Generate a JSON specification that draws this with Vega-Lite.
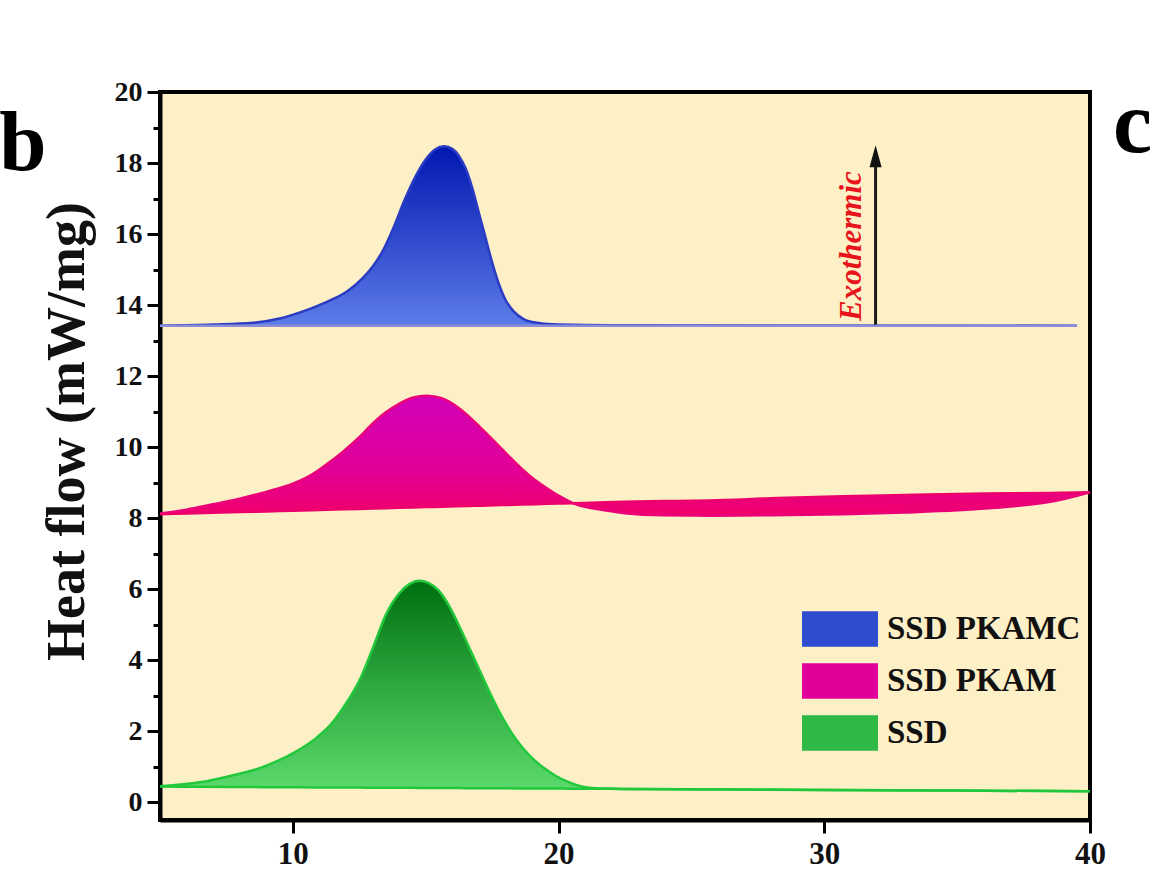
{
  "$schema": "https://vega.github.io/schema/vega-lite/v6.json",
  "width": 930,
  "height": 728,
  "autosize": {"type": "none"},
  "padding": {"left": 160, "top": 92, "right": 79, "bottom": 67},
  "background": "#FFFFFF",
  "config": {"view": {"stroke": "black", "strokeWidth": 4, "fill": "#FDEFC6"}, "font": "Liberation Serif"},
  "data": {"values": [
    {"s": "SSD PKAMC", "x": 5, "y": 13.42, "b": 13.42},
    {"s": "SSD PKAMC", "x": 7, "y": 13.45, "b": 13.42},
    {"s": "SSD PKAMC", "x": 8.5, "y": 13.5, "b": 13.42},
    {"s": "SSD PKAMC", "x": 9.5, "y": 13.62, "b": 13.42},
    {"s": "SSD PKAMC", "x": 10.3, "y": 13.8, "b": 13.42},
    {"s": "SSD PKAMC", "x": 11.0, "y": 14.0, "b": 13.42},
    {"s": "SSD PKAMC", "x": 11.6, "y": 14.2, "b": 13.42},
    {"s": "SSD PKAMC", "x": 12.1, "y": 14.42, "b": 13.42},
    {"s": "SSD PKAMC", "x": 12.6, "y": 14.74, "b": 13.42},
    {"s": "SSD PKAMC", "x": 13.0, "y": 15.08, "b": 13.42},
    {"s": "SSD PKAMC", "x": 13.4, "y": 15.55, "b": 13.42},
    {"s": "SSD PKAMC", "x": 13.8, "y": 16.2, "b": 13.42},
    {"s": "SSD PKAMC", "x": 14.2, "y": 16.95, "b": 13.42},
    {"s": "SSD PKAMC", "x": 14.6, "y": 17.6, "b": 13.42},
    {"s": "SSD PKAMC", "x": 15.0, "y": 18.1, "b": 13.42},
    {"s": "SSD PKAMC", "x": 15.35, "y": 18.38, "b": 13.42},
    {"s": "SSD PKAMC", "x": 15.7, "y": 18.47, "b": 13.42},
    {"s": "SSD PKAMC", "x": 16.0, "y": 18.4, "b": 13.42},
    {"s": "SSD PKAMC", "x": 16.25, "y": 18.2, "b": 13.42},
    {"s": "SSD PKAMC", "x": 16.5, "y": 17.85, "b": 13.42},
    {"s": "SSD PKAMC", "x": 16.75, "y": 17.3, "b": 13.42},
    {"s": "SSD PKAMC", "x": 17.0, "y": 16.6, "b": 13.42},
    {"s": "SSD PKAMC", "x": 17.25, "y": 15.9, "b": 13.42},
    {"s": "SSD PKAMC", "x": 17.5, "y": 15.2, "b": 13.42},
    {"s": "SSD PKAMC", "x": 17.75, "y": 14.6, "b": 13.42},
    {"s": "SSD PKAMC", "x": 18.0, "y": 14.15, "b": 13.42},
    {"s": "SSD PKAMC", "x": 18.3, "y": 13.83, "b": 13.42},
    {"s": "SSD PKAMC", "x": 18.7, "y": 13.6, "b": 13.42},
    {"s": "SSD PKAMC", "x": 19.2, "y": 13.5, "b": 13.42},
    {"s": "SSD PKAMC", "x": 20.0, "y": 13.45, "b": 13.42},
    {"s": "SSD PKAMC", "x": 22.0, "y": 13.43, "b": 13.42},
    {"s": "SSD PKAMC", "x": 39.5, "y": 13.42, "b": 13.42},

    {"s": "SSD PKAM", "x": 5, "y": 8.13, "b": 8.11},
    {"s": "SSD PKAM", "x": 6, "y": 8.24, "b": 8.13},
    {"s": "SSD PKAM", "x": 7, "y": 8.39, "b": 8.15},
    {"s": "SSD PKAM", "x": 8, "y": 8.55, "b": 8.17},
    {"s": "SSD PKAM", "x": 9, "y": 8.74, "b": 8.19},
    {"s": "SSD PKAM", "x": 10, "y": 8.97, "b": 8.21},
    {"s": "SSD PKAM", "x": 10.7, "y": 9.22, "b": 8.224},
    {"s": "SSD PKAM", "x": 11.3, "y": 9.53, "b": 8.236},
    {"s": "SSD PKAM", "x": 11.9, "y": 9.88, "b": 8.248},
    {"s": "SSD PKAM", "x": 12.5, "y": 10.28, "b": 8.26},
    {"s": "SSD PKAM", "x": 13.0, "y": 10.66, "b": 8.27},
    {"s": "SSD PKAM", "x": 13.5, "y": 10.98, "b": 8.28},
    {"s": "SSD PKAM", "x": 14.0, "y": 11.22, "b": 8.29},
    {"s": "SSD PKAM", "x": 14.5, "y": 11.39, "b": 8.3},
    {"s": "SSD PKAM", "x": 15.05, "y": 11.45, "b": 8.311},
    {"s": "SSD PKAM", "x": 15.6, "y": 11.38, "b": 8.322},
    {"s": "SSD PKAM", "x": 16.1, "y": 11.18, "b": 8.332},
    {"s": "SSD PKAM", "x": 16.6, "y": 10.88, "b": 8.342},
    {"s": "SSD PKAM", "x": 17.1, "y": 10.52, "b": 8.352},
    {"s": "SSD PKAM", "x": 17.6, "y": 10.15, "b": 8.362},
    {"s": "SSD PKAM", "x": 18.1, "y": 9.77, "b": 8.372},
    {"s": "SSD PKAM", "x": 18.6, "y": 9.4, "b": 8.382},
    {"s": "SSD PKAM", "x": 19.1, "y": 9.08, "b": 8.392},
    {"s": "SSD PKAM", "x": 19.6, "y": 8.82, "b": 8.402},
    {"s": "SSD PKAM", "x": 20.1, "y": 8.59, "b": 8.412},
    {"s": "SSD PKAM", "x": 20.55, "y": 8.42, "b": 8.42},
    {"s": "SSD PKAM", "x": 21.0, "y": 8.32, "b": 8.43},
    {"s": "SSD PKAM", "x": 21.5, "y": 8.25, "b": 8.44},
    {"s": "SSD PKAM", "x": 22.5, "y": 8.14, "b": 8.46},
    {"s": "SSD PKAM", "x": 24, "y": 8.08, "b": 8.48},
    {"s": "SSD PKAM", "x": 25.7, "y": 8.07, "b": 8.5},
    {"s": "SSD PKAM", "x": 28, "y": 8.08, "b": 8.56},
    {"s": "SSD PKAM", "x": 30.7, "y": 8.11, "b": 8.62},
    {"s": "SSD PKAM", "x": 33, "y": 8.16, "b": 8.65},
    {"s": "SSD PKAM", "x": 35, "y": 8.22, "b": 8.68},
    {"s": "SSD PKAM", "x": 37, "y": 8.33, "b": 8.7},
    {"s": "SSD PKAM", "x": 38.5, "y": 8.46, "b": 8.71},
    {"s": "SSD PKAM", "x": 40, "y": 8.73, "b": 8.73},

    {"s": "SSD", "x": 5, "y": 0.45, "b": 0.44},
    {"s": "SSD", "x": 6.5, "y": 0.56, "b": 0.434},
    {"s": "SSD", "x": 7.75, "y": 0.76, "b": 0.43},
    {"s": "SSD", "x": 8.5, "y": 0.9, "b": 0.427},
    {"s": "SSD", "x": 9.3, "y": 1.12, "b": 0.424},
    {"s": "SSD", "x": 10.1, "y": 1.42, "b": 0.421},
    {"s": "SSD", "x": 10.9, "y": 1.82, "b": 0.418},
    {"s": "SSD", "x": 11.5, "y": 2.25, "b": 0.416},
    {"s": "SSD", "x": 12.0, "y": 2.78, "b": 0.414},
    {"s": "SSD", "x": 12.5, "y": 3.42, "b": 0.412},
    {"s": "SSD", "x": 13.0, "y": 4.32, "b": 0.41},
    {"s": "SSD", "x": 13.5, "y": 5.28, "b": 0.408},
    {"s": "SSD", "x": 14.0, "y": 5.88, "b": 0.406},
    {"s": "SSD", "x": 14.4, "y": 6.15, "b": 0.405},
    {"s": "SSD", "x": 14.75, "y": 6.24, "b": 0.404},
    {"s": "SSD", "x": 15.1, "y": 6.18, "b": 0.402},
    {"s": "SSD", "x": 15.5, "y": 5.95, "b": 0.401},
    {"s": "SSD", "x": 15.9, "y": 5.5, "b": 0.4},
    {"s": "SSD", "x": 16.3, "y": 4.9, "b": 0.398},
    {"s": "SSD", "x": 16.7, "y": 4.25, "b": 0.397},
    {"s": "SSD", "x": 17.1, "y": 3.6, "b": 0.395},
    {"s": "SSD", "x": 17.5, "y": 2.95, "b": 0.394},
    {"s": "SSD", "x": 17.9, "y": 2.37, "b": 0.392},
    {"s": "SSD", "x": 18.4, "y": 1.77, "b": 0.39},
    {"s": "SSD", "x": 18.9, "y": 1.32, "b": 0.389},
    {"s": "SSD", "x": 19.4, "y": 0.99, "b": 0.387},
    {"s": "SSD", "x": 19.9, "y": 0.74, "b": 0.385},
    {"s": "SSD", "x": 20.4, "y": 0.56, "b": 0.383},
    {"s": "SSD", "x": 20.9, "y": 0.44, "b": 0.381},
    {"s": "SSD", "x": 21.6, "y": 0.385, "b": 0.379},
    {"s": "SSD", "x": 22.5, "y": 0.375, "b": 0.375},
    {"s": "SSD", "x": 30, "y": 0.347, "b": 0.347},
    {"s": "SSD", "x": 40, "y": 0.31, "b": 0.31}
  ]},
  "layer": [
    {
      "encoding": {
        "x": {"field": "x", "type": "quantitative",
          "scale": {"domain": [5, 40], "nice": false, "zero": false},
          "axis": {"values": [10, 20, 30, 40], "title": null, "grid": false, "domainColor": "black", "domainWidth": 4,
            "tickColor": "black", "tickWidth": 3, "tickSize": 13, "labelFont": "Liberation Serif", "labelFontSize": 31,
            "labelFontWeight": "bold", "labelColor": "#111111", "labelPadding": 6, "labelFlush": false}},
        "y": {"field": "y", "type": "quantitative", "stack": null,
          "scale": {"domain": [-0.5, 20], "nice": false, "zero": false},
          "axis": {"values": [0,1,2,3,4,5,6,7,8,9,10,11,12,13,14,15,16,17,18,19,20],
            "labelExpr": "datum.value % 2 === 0 ? datum.label : ''",
            "title": "Heat flow (mW/mg)", "titleFont": "Liberation Serif", "titleFontSize": 54, "titleFontWeight": "bold",
            "titleColor": "#111111", "titleX": -66, "titleY": 339,
            "grid": false, "domainColor": "black", "domainWidth": 4, "tickColor": "black", "tickWidth": 3,
            "tickSize": {"condition": {"test": "datum.value % 2 !== 0", "value": 7}, "value": 13},
            "labelFont": "Liberation Serif", "labelFontSize": 28, "labelFontWeight": "bold", "labelColor": "#111111",
            "labelPadding": 5, "labelOverlap": false}}
      },
      "layer": [
        {
          "mark": {"type": "area", "interpolate": "monotone"},
          "encoding": {
            "y2": {"field": "b"},
            "color": {"field": "s", "type": "nominal",
              "scale": {"domain": ["SSD PKAMC", "SSD PKAM", "SSD"], "range": ["#2F4BD0", "#E2009A", "#2EB845"]},
              "legend": {"orient": "none", "legendX": 661, "legendY": 518, "title": null,
                "symbolType": "M-2,-0.94H2V0.94H-2Z", "symbolSize": 1444, "symbolStrokeWidth": 0, "symbolOpacity": 1,
                "labelFont": "Liberation Serif", "labelFontSize": 33, "labelFontWeight": "bold", "labelColor": "#111111",
                "labelLimit": 400, "labelOffset": 28, "rowPadding": 15, "padding": 0,
                "encode": {"symbols": {"update": {"fill": [
                  {"test": "datum.value === 'SSD PKAMC'", "value": {"gradient": "linear", "x1": 0, "y1": 0, "x2": 0, "y2": 1, "stops": [{"offset": 0, "color": "#0A20B0"}, {"offset": 1, "color": "#5A78E6"}]}},
                  {"test": "datum.value === 'SSD PKAM'", "value": {"gradient": "linear", "x1": 0, "y1": 0, "x2": 0, "y2": 1, "stops": [{"offset": 0, "color": "#D400B0"}, {"offset": 1, "color": "#F2006A"}]}},
                  {"value": {"gradient": "linear", "x1": 0, "y1": 0, "x2": 0, "y2": 1, "stops": [{"offset": 0, "color": "#006A12"}, {"offset": 1, "color": "#58D466"}]}}
                ]}}}}
            }
          }
        },
        {
          "transform": [{"filter": "datum.s === 'SSD PKAMC'"}],
          "mark": {"type": "area", "interpolate": "monotone", "color": {"gradient": "linear", "x1": 0, "y1": 0, "x2": 0, "y2": 1,
            "stops": [{"offset": 0, "color": "#0018B0"}, {"offset": 0.5, "color": "#2E48CC"}, {"offset": 1, "color": "#5C7CE8"}]}},
          "encoding": {"y2": {"field": "b"}}
        },
        {
          "transform": [{"filter": "datum.s === 'SSD PKAM'"}],
          "mark": {"type": "area", "interpolate": "monotone", "color": {"gradient": "linear", "x1": 0, "y1": 0, "x2": 0, "y2": 1,
            "stops": [{"offset": 0, "color": "#D000B8"}, {"offset": 0.6, "color": "#E2009A"}, {"offset": 1, "color": "#F0006A"}]}},
          "encoding": {"y2": {"field": "b"}}
        },
        {
          "transform": [{"filter": "datum.s === 'SSD'"}],
          "mark": {"type": "area", "interpolate": "monotone", "color": {"gradient": "linear", "x1": 0, "y1": 0, "x2": 0, "y2": 1,
            "stops": [{"offset": 0, "color": "#006E10"}, {"offset": 0.5, "color": "#2EA840"}, {"offset": 1, "color": "#5CDA6C"}]}},
          "encoding": {"y2": {"field": "b"}}
        },
        {
          "mark": {"type": "line", "strokeWidth": 2.5, "interpolate": "monotone"},
          "encoding": {
            "stroke": {"field": "s", "type": "nominal",
              "scale": {"domain": ["SSD PKAMC", "SSD PKAM", "SSD"], "range": ["#2A3CC4", "#EA0078", "#22C83C"]},
              "legend": null}
          }
        },
        {
          "mark": {"type": "line", "strokeWidth": 2.5, "interpolate": "monotone"},
          "encoding": {
            "y": {"field": "b", "type": "quantitative"},
            "stroke": {"field": "s", "type": "nominal",
              "scale": {"domain": ["SSD PKAMC", "SSD PKAM", "SSD"], "range": ["#8C8CD8", "#EC006C", "#22C83C"]},
              "legend": null}
          }
        }
      ],
      "resolve": {"scale": {"stroke": "independent"}}
    },
    {
      "data": {"values": [{"t": "arrow"}]},
      "mark": {"type": "rule", "strokeWidth": 3, "color": "#1A1A1A"},
      "encoding": {
        "x": {"datum": 31.93, "type": "quantitative", "axis": null},
        "y": {"datum": 13.45, "type": "quantitative", "axis": null},
        "y2": {"datum": 17.9}
      }
    },
    {
      "data": {"values": [{"t": "head"}]},
      "mark": {"type": "point", "shape": "M0,-1L0.55,1L-0.55,1Z", "filled": true, "size": 484, "color": "#111111", "opacity": 1},
      "encoding": {
        "x": {"datum": 31.93, "type": "quantitative", "axis": null},
        "y": {"datum": 18.19, "type": "quantitative", "axis": null}
      }
    },
    {
      "data": {"values": [{"t": "Exothermic"}]},
      "mark": {"type": "text", "angle": 270, "font": "Liberation Serif", "fontStyle": "italic", "fontWeight": "bold",
        "fontSize": 31, "color": "#E8141C", "align": "center", "baseline": "middle"},
      "encoding": {
        "x": {"datum": 31.05, "type": "quantitative", "axis": null},
        "y": {"datum": 15.66, "type": "quantitative", "axis": null},
        "text": {"field": "t"}
      }
    },
    {
      "data": {"values": [{"t": "b"}]},
      "mark": {"type": "text", "font": "Liberation Serif", "fontWeight": "bold", "fontSize": 85, "color": "#000000",
        "align": "left", "baseline": "alphabetic"},
      "encoding": {
        "x": {"datum": -1.05, "type": "quantitative", "axis": null},
        "y": {"datum": 17.8, "type": "quantitative", "axis": null},
        "text": {"field": "t"}
      }
    },
    {
      "data": {"values": [{"t": "c"}]},
      "mark": {"type": "text", "font": "Liberation Serif", "fontWeight": "bold", "fontSize": 88, "color": "#000000",
        "align": "left", "baseline": "alphabetic"},
      "encoding": {
        "x": {"datum": 40.87, "type": "quantitative", "axis": null},
        "y": {"datum": 18.3, "type": "quantitative", "axis": null},
        "text": {"field": "t"}
      }
    }
  ],
  "resolve": {"axis": {"x": "independent", "y": "independent"}}
}
